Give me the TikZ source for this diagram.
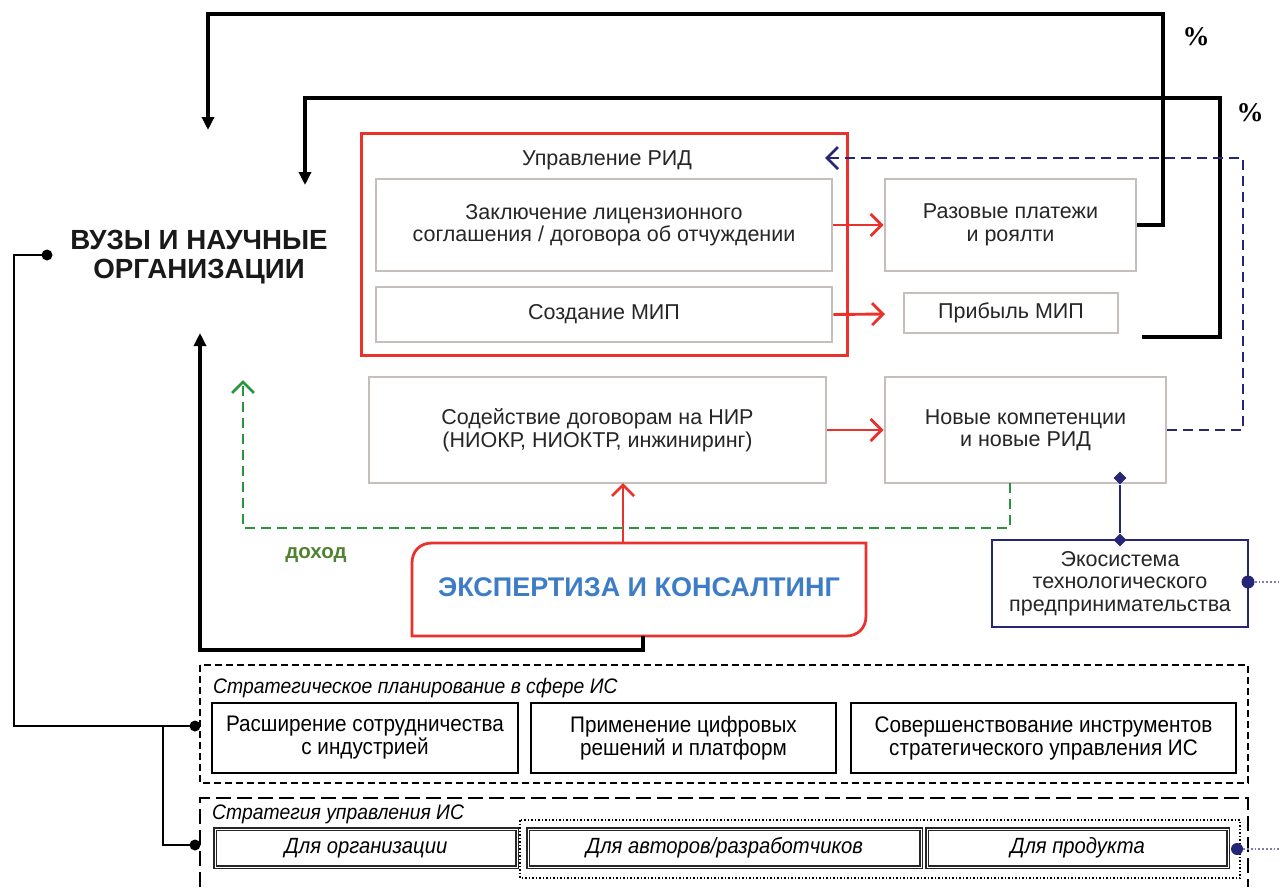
\documentclass[tikz,border=0pt]{standalone}
\usepackage{fontspec}
\setmainfont{Liberation Sans}
\newfontfamily\cond[FakeStretch=0.92]{Liberation Sans}
\newfontfamily\pcfont{Liberation Serif}
\usetikzlibrary{arrows.meta,shapes.geometric}
\definecolor{rred}{RGB}{234,50,45}
\definecolor{bgray}{RGB}{198,190,186}
\definecolor{navy}{RGB}{38,38,118}
\definecolor{dgreen}{RGB}{40,150,60}
\definecolor{lgreen}{RGB}{80,130,50}
\definecolor{tblue}{RGB}{61,125,200}
\tikzset{
  tfont/.style={font=\fontsize{21.5}{22.5}\selectfont, text=black!85},
  gbox/.style={draw=bgray, line width=2.8pt, fill=white, align=center, inner sep=0pt, tfont},
  kbox/.style={draw=black, line width=2.8pt, fill=white, align=center, inner sep=0pt, font=\cond\fontsize{22.5}{23}\selectfont},
  obox/.style={draw=black!85, line width=1.4pt, double=white, double distance=0.6pt, fill=white, inner sep=0pt, font=\cond\itshape\fontsize{22}{23}\selectfont},
  loopline/.style={draw=black, line width=3.2pt, -{Triangle[length=13pt,width=12pt]}},
  barb/.style={-{Straight Barb[length=11pt,width=22pt,line width=2.8pt]}},
  redarr/.style={draw=rred, line width=2.9pt, barb},
  thin/.style={draw=black, line width=1.9pt},
  dotend/.style={circle, fill=black, inner sep=0pt, minimum size=11pt},
  ndot/.style={circle, fill=navy, inner sep=0pt, minimum size=13pt},
  ndia/.style={diamond, fill=navy, inner sep=0pt, minimum size=13pt},
  ttl/.style={font=\cond\itshape\fontsize{21}{23}\selectfont, inner sep=0pt, anchor=west},
  pct/.style={font=\pcfont\bfseries\fontsize{27}{28}\selectfont},
}
\begin{document}
\begin{tikzpicture}[x=1pt,y=-1pt]
\useasboundingbox (0,0) rectangle (1281,887);

% red group
\node[draw=rred, line width=3pt, minimum width=486, minimum height=222, inner sep=0pt] (rid) at (604,244) {};
\node[tfont] (ridt) at (607,160) {Управление РИД};
\node[gbox, minimum width=456, minimum height=92] (lic) at (604,225) {Заключение лицензионного\\соглашения / договора об отчуждении};
\node[gbox, minimum width=456, minimum height=55] (mip) at (604,314.5) {Создание МИП};

\node[gbox, minimum width=251, minimum height=92] (pay) at (1010.5,225) {Разовые платежи\\и роялти};
\node[gbox, minimum width=214, minimum height=40] (prof) at (1011,313) {Прибыль МИП};
\node[gbox, minimum width=457, minimum height=106] (nir) at (597.5,430) {Содействие договорам на НИР\\(НИОКР, НИОКТР, инжиниринг)};
\node[gbox, minimum width=281, minimum height=106] (comp) at (1025.5,430) {Новые компетенции\\и новые РИД};

% expertise
\draw[rred, line width=2.8pt, fill=white] (412,636) -- (412,563) .. controls (412,551) and (420,543) .. (432,543) -- (866,543) -- (866,616) .. controls (866,628) and (858,636) .. (846,636) -- cycle;
\node[minimum width=454, minimum height=93, inner sep=0pt, font=\bfseries\fontsize{27}{30}\selectfont, text=tblue] (exp) at (639,587) {ЭКСПЕРТИЗА И КОНСАЛТИНГ};

% universities
\node[align=center, font=\bfseries\fontsize{27.7}{28.5}\selectfont, text=black!90] (vuz) at (199,257) {ВУЗЫ И НАУЧНЫЕ\\ОРГАНИЗАЦИИ};

% ecosystem
\node[draw=navy, line width=2.8pt, fill=white, minimum width=256, minimum height=87, inner sep=0pt, align=center, tfont] (eco) at (1120,583.5) {Экосистема\\технологического\\предпринимательства};

% strategic planning
\draw[line width=1.8pt, dash pattern=on 7pt off 4pt] (200,665) rectangle (1248,783);
\node[ttl] (plt) at (213,688) {Стратегическое планирование в сфере ИС};
\node[kbox, minimum width=306, minimum height=70] (b1) at (365,738) {Расширение сотрудничества\\с индустрией};
\node[kbox, minimum width=305, minimum height=70] (b2) at (683.5,738) {Применение цифровых\\решений и платформ};
\node[kbox, minimum width=385, minimum height=70] (b3) at (1043.5,738) {Совершенствование инструментов\\стратегического управления ИС};

% strategy management
\draw[line width=2.4pt, dash pattern=on 15pt off 6pt] (200,887) -- (200,798) -- (1248,798) -- (1248,887);
\node[ttl] (smt) at (212,814) {Стратегия управления ИС};
\draw[line width=1.5pt, dotted] (520,820) rectangle (1240,878);
\node[obox, minimum width=302, minimum height=38] (o1) at (366,848) {Для организации};
\node[obox, minimum width=393, minimum height=38] (o2) at (724.5,848) {Для авторов/разработчиков};
\node[obox, minimum width=301, minimum height=38] (o3) at (1077.5,848) {Для продукта};

% coordinates
\coordinate (a1) at (208,130);
\coordinate (a2) at (305,185);
\coordinate (s2) at (1142,337);
\coordinate (mipend) at (885,314);
\coordinate (ridin) at (825,158);
\coordinate (gstart) at (1010,483);
\coordinate (gend) at (243,380);
\coordinate (kstart) at (643,636);
\coordinate (kend) at (200,333);
\coordinate (expn) at (623,543);
\coordinate (nirs) at (623,483);
\coordinate (ecoup) at (1120,478);

% loops with percent
\draw[loopline] (pay.east) -- (1163,225) |- (208,14) -- (a1);
\draw[loopline] (s2) -- (1220,337) |- (305,98) -- (a2);
\node[pct] (p1) at (1196,37) {\%};
\node[pct] (p2) at (1250,113) {\%};

% red arrows
\draw[redarr] (lic.east) -- (pay.west);
\draw[redarr] (mip.east) -- (mipend);
\draw[redarr] (nir.east) -- (comp.west);
\draw[redarr] (expn) -- (nirs);

% blue dashed
\draw[navy, line width=2.9pt, dash pattern=on 10pt off 6pt, barb] (comp.east) -- (1243,430) |- (ridin);

% green dashed
\draw[dgreen, line width=2.9pt, dash pattern=on 10pt off 6pt, barb] (gstart) -- (1010,528) -| (gend);
\node[font=\bfseries\fontsize{20.5}{22}\selectfont, text=lgreen] (doh) at (316,555) {доход};

% black income
\draw[loopline] (kstart) -- (643,650) -| (kend);

% left connectors
\node[dotend] (d0) at (47,255) {};
\node[dotend] (d1) at (195,726) {};
\node[dotend] (d2) at (195,845) {};
\draw[thin] (d0.center) -- (14,255) |- (d1.center);
\draw[thin] (163,726) |- (d2.center);

% ecosystem links
\node[ndia] (e1) at (ecoup) {};
\node[ndia] (e2) at (1120,540) {};
\draw[navy, line width=1.9pt] (e1) -- (e2);
\node[ndot] (e3) at (1248,582) {};
\coordinate (e3r) at (1281,582);
\draw[navy!60, line width=1.8pt, dotted] (e3) -- (e3r);
\node[ndot, minimum size=12pt] (e4) at (1237,849) {};
\coordinate (e4r) at (1281,849);
\draw[navy!60, line width=1.8pt, dotted] (e4) -- (e4r);
\end{tikzpicture}
\end{document}
